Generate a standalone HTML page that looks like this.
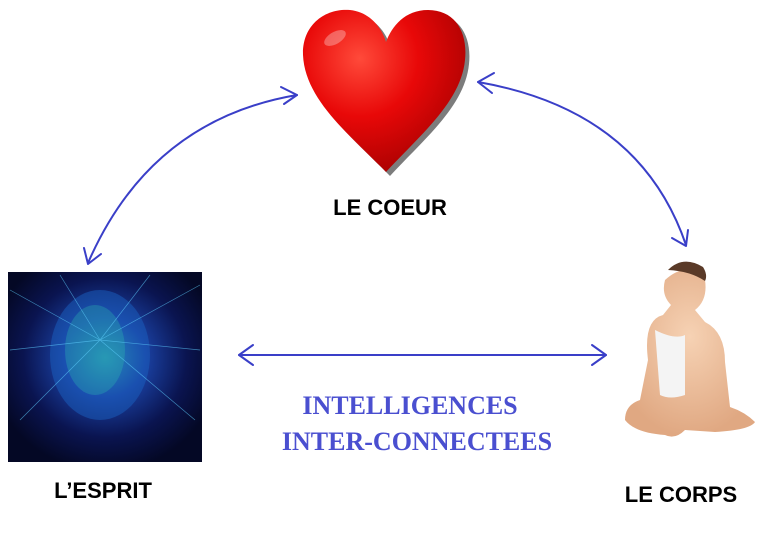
<!DOCTYPE html>
<html><head><meta charset="utf-8"><style>
html,body{margin:0;padding:0;background:#fff;}
svg{display:block;}
</style></head><body>
<svg width="775" height="539" viewBox="0 0 775 539" xmlns="http://www.w3.org/2000/svg">
<defs>
<radialGradient id="hg" cx="0.35" cy="0.3" r="0.8">
<stop offset="0" stop-color="#ff4a3a"/><stop offset="0.45" stop-color="#e80808"/><stop offset="1" stop-color="#a00000"/>
</radialGradient>
<radialGradient id="bg" cx="0.5" cy="0.45" r="0.6">
<stop offset="0" stop-color="#30b0b0"/><stop offset="0.35" stop-color="#1a40a0"/><stop offset="0.7" stop-color="#0a1450"/><stop offset="1" stop-color="#040825"/>
</radialGradient>
<radialGradient id="sk" cx="0.5" cy="0.4" r="0.6">
<stop offset="0" stop-color="#f6d2b4"/><stop offset="1" stop-color="#e0a882"/>
</radialGradient>
</defs>
<path d="M386,172 C350,135 305,100 303,55 C302,25 325,8 350,10 C370,12 382,28 386,42 C392,26 405,10 428,10 C455,10 468,32 465,60 C461,102 420,135 386,172 Z" fill="#444" transform="translate(4,4)" opacity="0.7"/>
<path d="M386,172 C350,135 305,100 303,55 C302,25 325,8 350,10 C370,12 382,28 386,42 C392,26 405,10 428,10 C455,10 468,32 465,60 C461,102 420,135 386,172 Z" fill="url(#hg)"/>
<ellipse cx="335" cy="38" rx="12" ry="6" fill="#fff" opacity="0.3" transform="rotate(-30 335 38)"/>
<text x="390" y="215" font-family="Liberation Sans, sans-serif" font-weight="bold" font-size="22" text-anchor="middle" fill="#000">LE COEUR</text>
<rect x="8" y="272" width="194" height="190" fill="url(#bg)"/>
<ellipse cx="100" cy="355" rx="50" ry="65" fill="#1a60c0" opacity="0.5"/>
<ellipse cx="95" cy="350" rx="30" ry="45" fill="#30c0b0" opacity="0.3"/>
<g stroke="#60d0ff" stroke-width="0.7" opacity="0.6">
<line x1="100" y1="340" x2="10" y2="290"/><line x1="100" y1="340" x2="200" y2="285"/>
<line x1="100" y1="340" x2="20" y2="420"/><line x1="100" y1="340" x2="195" y2="420"/>
<line x1="100" y1="340" x2="60" y2="275"/><line x1="100" y1="340" x2="150" y2="275"/>
<line x1="100" y1="340" x2="10" y2="350"/><line x1="100" y1="340" x2="200" y2="350"/>
</g>
<text x="103" y="498" font-family="Liberation Sans, sans-serif" font-weight="bold" font-size="22" text-anchor="middle" fill="#000">L’ESPRIT</text>
<path d="M665,280 q22,-20 40,0 q3,20 -10,30 l10,12 q20,10 20,40 l5,45 q15,5 25,15 q-5,8 -40,10 l-30,-2 q-10,10 -20,5 q-30,-2 -40,-15 q0,-15 15,-20 l8,-40 q-5,-40 15,-45 l8,-10 q-10,-10 -6,-25z" fill="url(#sk)"/>
<path d="M655,330 q20,10 30,5 l0,60 q-15,5 -25,0z" fill="#f4f4f4"/>
<path d="M668,270 q15,-15 35,-3 q5,8 2,14 q-15,-10 -37,-11z" fill="#5a3a28"/>
<text x="681" y="502" font-family="Liberation Sans, sans-serif" font-weight="bold" font-size="22" text-anchor="middle" fill="#000">LE CORPS</text>
<g fill="none" stroke="#3a3fc8" stroke-width="2" stroke-linecap="round" stroke-linejoin="round">
<path d="M88,263 Q150,120 297,95"/>
<path d="M84,248 L88,264 L101,254"/>
<path d="M281,87 L297,95 L284,104"/>
<path d="M478,82 Q640,110 686,245"/>
<path d="M494,73 L478,82 L492,93"/>
<path d="M672,238 L686,246 L688,230"/>
<path d="M239,355 L606,355"/>
<path d="M253,345 L239,355 L253,365"/>
<path d="M592,345 L606,355 L592,365"/>
</g>
<text x="410" y="414" font-family="Liberation Serif, serif" font-weight="bold" font-size="26" text-anchor="middle" fill="#4a4fd0">INTELLIGENCES</text>
<text x="417" y="450" font-family="Liberation Serif, serif" font-weight="bold" font-size="26" text-anchor="middle" fill="#4a4fd0">INTER-CONNECTEES</text>
</svg>
</body></html>
